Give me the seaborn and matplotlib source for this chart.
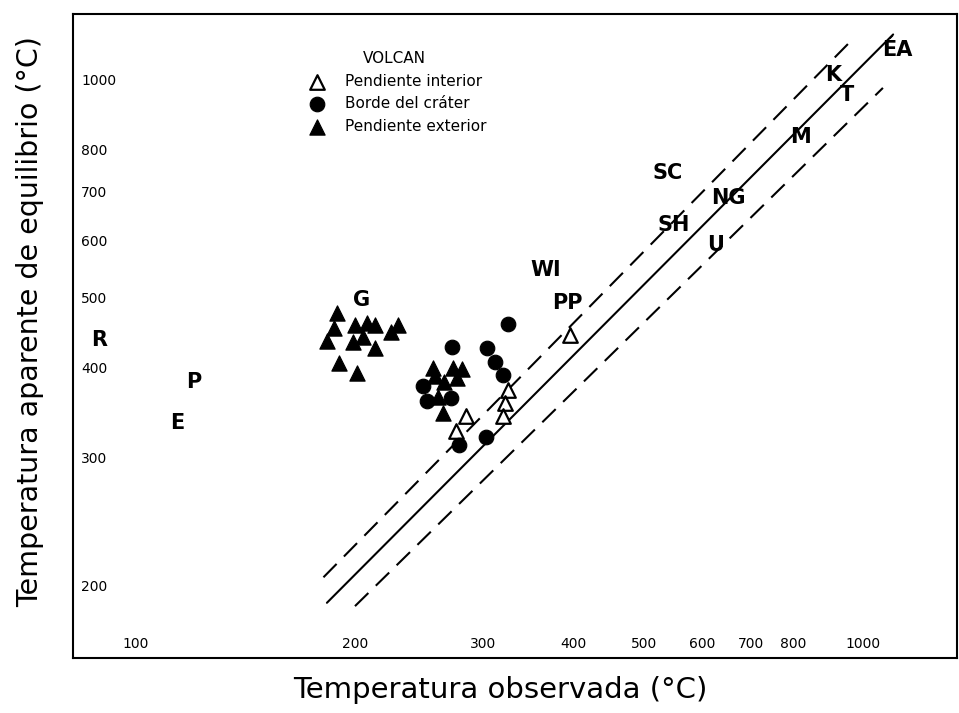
import matplotlib
matplotlib.use("Agg")
import matplotlib.pyplot as plt
import seaborn as sns
import pandas as pd

# Pendiente exterior (filled triangles)
ext_x = [189, 187, 200, 208, 213, 229, 224, 183, 199, 205, 213, 190, 201,
         256, 273, 281, 258, 265, 276, 260, 264]
ext_y = [476, 453, 458, 461, 458, 458, 448, 435, 434, 441, 425, 406, 393,
         399, 399, 398, 389, 382, 387, 364, 346]

# Borde del crater (filled circles)
rim_x = [272, 248, 251, 271, 304, 312, 320, 325, 303, 278]
rim_y = [427, 377, 359, 363, 425, 407, 390, 459, 321, 312]

# Pendiente interior (open triangles)
int_x = [284, 275, 325, 322, 320, 395]
int_y = [343, 327, 372, 357, 343, 443]

# reference lines (end points)
solid_x = [183, 1099]
solid_y = [189, 1156]
upper_x = [181, 953]
upper_y = [205, 1122]
lower_x = [200, 1064]
lower_y = [187, 975]

# site labels
site_names = ["R", "P", "E", "G", "WI", "PP", "SC", "SH", "NG", "U", "M", "K", "T", "ÉA"]
site_x = [89, 120, 114, 204, 366, 392, 539, 548, 652, 626, 819, 910, 951, 1114]
site_y = [437, 382, 335, 496, 546, 491, 743, 630, 686, 591, 834, 1016, 953, 1100]

ticks_x = [100, 200, 300, 400, 500, 600, 700, 800, 1000]
ticks_y = [200, 300, 400, 500, 600, 700, 800, 1000]

sns.set_style("white")
plt.rcParams["font.family"] = ["DejaVu Sans"]
plt.rcParams["text.color"] = "black"
plt.rcParams["axes.labelcolor"] = "black"
plt.rcParams["xtick.color"] = "black"
plt.rcParams["ytick.color"] = "black"

fig = plt.figure(figsize=(9.59, 7.13), dpi=100)
ax = fig.add_axes([0.0761, 0.0771, 0.922, 0.9033])

ax.set_xscale("log")
ax.set_yscale("log")

# lines
ax.plot(solid_x, solid_y, color="black", lw=1.5)
ax.plot(upper_x, upper_y, color="black", lw=1.5, linestyle=(0, (9, 5)))
ax.plot(lower_x, lower_y, color="black", lw=1.5, linestyle=(0, (9, 5)))

df_int = pd.DataFrame({"x": int_x, "y": int_y})
df_rim = pd.DataFrame({"x": rim_x, "y": rim_y})
df_ext = pd.DataFrame({"x": ext_x, "y": ext_y})

sns.scatterplot(data=df_int, x="x", y="y", marker="^", s=110, facecolor="white",
                edgecolor="black", linewidth=1.6, label="Pendiente interior", ax=ax, zorder=3)
sns.scatterplot(data=df_rim, x="x", y="y", marker="o", s=110, color="black",
                edgecolor="black", label="Borde del cráter", ax=ax, zorder=3)
sns.scatterplot(data=df_ext, x="x", y="y", marker="^", s=120, color="black",
                edgecolor="black", label="Pendiente exterior", ax=ax, zorder=3)

for name, sx, sy in zip(site_names, site_x, site_y):
    ax.text(sx, sy, name, ha="center", va="center", fontsize=15, fontweight="bold")

ax.set_xlim(81.9, 1346)
ax.set_ylim(158.5, 1234)

ax.set_xticks(ticks_x)
ax.set_xticklabels([str(t) for t in ticks_x])
ax.set_yticks(ticks_y)
ax.set_yticklabels([str(t) for t in ticks_y])
ax.minorticks_off()

ax.tick_params(axis="x", direction="in", length=4, width=1.2, pad=-15, labelsize=10)
ax.tick_params(axis="y", direction="in", length=4, width=1.2, pad=-6, labelsize=10)
for lbl in ax.get_yticklabels():
    lbl.set_horizontalalignment("left")

for sp in ax.spines.values():
    sp.set_linewidth(1.5)
    sp.set_color("black")

ax.set_xlabel("Temperatura observada (°C)", fontsize=21)
ax.set_ylabel("Temperatura aparente de equilibrio (°C)", fontsize=20.5)
ax.xaxis.set_label_coords(0.483, -0.028)
ax.yaxis.set_label_coords(-0.033, 0.522)

leg = ax.legend(title="VOLCAN", loc="upper left", bbox_to_anchor=(0.252, 0.952),
                frameon=False, fontsize=11, title_fontsize=11, handletextpad=0.8,
                labelspacing=0.5, borderaxespad=0)

fig.savefig("out.png", dpi=100)
